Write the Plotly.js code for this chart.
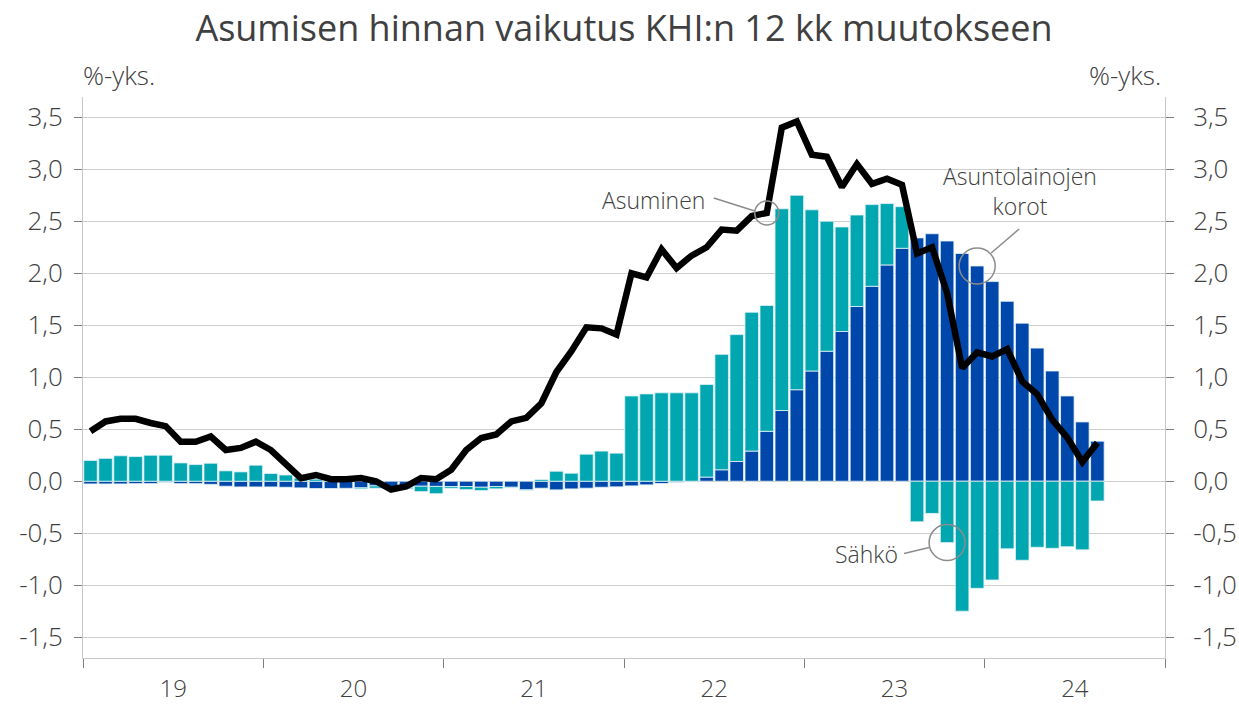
<!DOCTYPE html>
<html>
<head>
<meta charset="utf-8">
<script src="https://cdn.plot.ly/plotly-3.0.1.min.js"></script>
<style>html,body{margin:0;padding:0;background:#fff;}#chart{width:1239px;height:704px;}</style>
</head>
<body>
<div id="chart"></div>
<script>
// Months Jan 2019 .. Aug 2024 (index 0..67)
const months = [
 "2019-01","2019-02","2019-03","2019-04","2019-05","2019-06","2019-07","2019-08","2019-09","2019-10","2019-11","2019-12",
 "2020-01","2020-02","2020-03","2020-04","2020-05","2020-06","2020-07","2020-08","2020-09","2020-10","2020-11","2020-12",
 "2021-01","2021-02","2021-03","2021-04","2021-05","2021-06","2021-07","2021-08","2021-09","2021-10","2021-11","2021-12",
 "2022-01","2022-02","2022-03","2022-04","2022-05","2022-06","2022-07","2022-08","2022-09","2022-10","2022-11","2022-12",
 "2023-01","2023-02","2023-03","2023-04","2023-05","2023-06","2023-07","2023-08","2023-09","2023-10","2023-11","2023-12",
 "2024-01","2024-02","2024-03","2024-04","2024-05","2024-06","2024-07","2024-08"
];

// Asuntolainojen korot (dark blue bars), %-yks.
const korot = [
 -0.026,-0.026,-0.026,-0.023,-0.023,-0.010,-0.023,-0.023,-0.030,-0.048,-0.055,-0.055,
 -0.055,-0.058,-0.064,-0.070,-0.070,-0.068,-0.064,-0.045,-0.058,-0.058,-0.048,-0.050,
 -0.051,-0.051,-0.058,-0.051,-0.058,-0.083,-0.067,-0.083,-0.074,-0.067,-0.058,-0.054,
 -0.045,-0.035,-0.022,-0.010,-0.005,0.04,0.11,0.19,0.29,0.48,0.68,0.88,
 1.06,1.25,1.44,1.68,1.875,2.08,2.24,2.34,2.38,2.31,2.19,2.07,
 1.92,1.73,1.52,1.28,1.06,0.82,0.57,0.385
];

// Sähkö (teal bars), %-yks.
const sahko = [
 0.20,0.22,0.245,0.237,0.25,0.25,0.176,0.16,0.173,0.10,0.09,0.154,
 0.074,0.06,0.03,0.02,0.01,0.005,-0.01,-0.022,-0.01,-0.015,-0.052,-0.07,
 -0.016,-0.03,-0.032,-0.022,-0.006,-0.005,0.016,0.096,0.077,0.26,0.29,0.27,
 0.82,0.84,0.85,0.85,0.85,0.89,1.11,1.22,1.335,1.21,1.94,1.87,
 1.55,1.25,1.005,0.88,0.785,0.59,0.40,-0.39,-0.31,-0.59,-1.25,-1.03,
 -0.95,-0.65,-0.76,-0.635,-0.645,-0.63,-0.66,-0.19
];

// Asuminen (black line), %-yks.
const asuminen = [
 0.48,0.575,0.60,0.60,0.56,0.53,0.38,0.38,0.43,0.30,0.32,0.38,
 0.30,0.175,0.03,0.06,0.02,0.02,0.03,0.0,-0.08,-0.05,0.03,0.02,
 0.11,0.30,0.415,0.45,0.575,0.61,0.75,1.05,1.25,1.48,1.47,1.41,
 2.0,1.96,2.23,2.05,2.17,2.25,2.42,2.41,2.55,2.58,3.40,3.46,
 3.14,3.12,2.83,3.05,2.86,2.91,2.85,2.19,2.25,1.81,1.09,1.24,
 1.20,1.27,0.96,0.835,0.59,0.42,0.185,0.37
];

const yearLabels = ["19","20","21","22","23","24"];
const yTickVals = [-1.5,-1.0,-0.5,0,0.5,1.0,1.5,2.0,2.5,3.0,3.5];
const yTickText = ["-1,5","-1,0","-0,5","0,0","0,5","1,0","1,5","2,0","2,5","3,0","3,5"];

const idx = months.map((m,i)=>i);
const yearMid = yearLabels.map((y,k)=>k*12+5.5);
const yearEdges = [0,1,2,3,4,5,6].map(k=>k*12-0.5);

const FONT = "Open Sans, Noto Sans, sans-serif";
const TXT = "#404040";
const DARK = "#0047ab";
const TEAL = "#00a6b0";
const EDGE = "#e4f2f6";

const traces = [
 {type:"bar", x:idx, y:korot, name:"Asuntolainojen korot",
  marker:{color:DARK, line:{color:EDGE, width:0.8}}, hoverinfo:"skip"},
 {type:"bar", x:idx, y:sahko, name:"Sähkö",
  marker:{color:TEAL, line:{color:EDGE, width:0.8}}, hoverinfo:"skip"},
 {type:"scatter", mode:"lines", x:idx, y:asuminen, name:"Asuminen", yaxis:"y2",
  line:{color:"#000000", width:6.5}, hoverinfo:"skip"}
];

const yRange = [-1.7, 3.695];
const axisCommon = {
  range: yRange, tickmode:"array", tickvals:yTickVals, ticktext:yTickText,
  ticks:"outside", ticklen:8, tickcolor:"#7f7f7f", tickwidth:1,
  showline:true, linecolor:"#c8c8c8", linewidth:1,
  tickfont:{family:FONT, size:26, color:TXT, weight:300},
  fixedrange:true
};

function circle(xv, yv, r){
  return {type:"circle", xref:"x", yref:"y", xsizemode:"pixel", ysizemode:"pixel",
    xanchor:xv, yanchor:yv, x0:-r, x1:r, y0:-r, y1:r,
    line:{color:"#8c8c8c", width:1.5}, fillcolor:"rgba(0,0,0,0)", layer:"above"};
}
function seg(xv, yv, dx0, dy0, dx1, dy1){
  return {type:"line", xref:"x", yref:"y", xsizemode:"pixel", ysizemode:"pixel",
    xanchor:xv, yanchor:yv, x0:dx0, y0:dy0, x1:dx1, y1:dy1,
    line:{color:"#8c8c8c", width:1.5}, layer:"above"};
}

const iAs = 45, iKo = 59, iSa = 57;
const yKo = korot[iKo];
const ySa = korot[iSa] < 0 ? korot[iSa] + sahko[iSa] : sahko[iSa];

const layout = {
  width:1239, height:704,
  margin:{l:83, r:74, t:97, b:46, pad:0},
  paper_bgcolor:"#ffffff", plot_bgcolor:"#ffffff",
  barmode:"relative", bargap:0.1,
  showlegend:false,
  title:{text:"Asumisen hinnan vaikutus KHI:n 12 kk muutokseen",
    font:{family:FONT, size:36, color:TXT, weight:400},
    x:0.5, xref:"paper", xanchor:"center", y:1-28/704, yref:"container", yanchor:"middle"},
  xaxis:{range:[-0.5,71.5], tickmode:"array", tickvals:yearMid, ticktext:yearLabels,
    ticks:"", showline:true, linecolor:"#c8c8c8", linewidth:1, showgrid:false, zeroline:false,
    tickfont:{family:FONT, size:24, color:TXT, weight:300}, ticklabelstandoff:9,
    minor:{tickmode:"array", tickvals:yearEdges, ticks:"outside", ticklen:9, tickcolor:"#7f7f7f", tickwidth:1, showgrid:false},
    fixedrange:true},
  yaxis:Object.assign({}, axisCommon, {side:"left", showgrid:true, gridcolor:"#cfcfcf", gridwidth:1,
    zeroline:true, zerolinecolor:"#cfcfcf", zerolinewidth:1, ticklabelstandoff:6}),
  yaxis2:Object.assign({}, axisCommon, {side:"right", overlaying:"y", showgrid:false, zeroline:false, ticklabelstandoff:14}),
  shapes:[
    circle(iAs, asuminen[iAs], 12),
    seg(iAs, asuminen[iAs], -53, 15, -12, 2),
    circle(iKo, yKo, 18),
    seg(iKo, yKo, 42, 37, 14, 13),
    circle(iSa, ySa, 18),
    seg(iSa, ySa, -43, -11, -18, -5)
  ],
  annotations:[
    {text:"%-yks.", xref:"paper", yref:"paper", x:0, y:1, xanchor:"left", yanchor:"middle", yshift:22, xshift:-2,
     showarrow:false, font:{family:FONT, size:26, color:TXT, weight:300}},
    {text:"%-yks.", xref:"paper", yref:"paper", x:1, y:1, xanchor:"right", yanchor:"middle", yshift:22, xshift:-2,
     showarrow:false, font:{family:FONT, size:26, color:TXT, weight:300}},
    {text:"Asuminen", xref:"x", yref:"y", x:iAs, y:asuminen[iAs], xanchor:"center", yanchor:"middle",
     xshift:-113, yshift:13, showarrow:false, font:{family:FONT, size:23, color:TXT, weight:300}},
    {text:"Asuntolainojen<br>korot", xref:"x", yref:"y", x:iKo, y:yKo, xanchor:"center", yanchor:"middle",
     xshift:43, yshift:75, showarrow:false, font:{family:FONT, size:23, color:TXT, weight:300}},
    {text:"Sähkö", xref:"x", yref:"y", x:iSa, y:ySa, xanchor:"center", yanchor:"middle",
     xshift:-81, yshift:-11, showarrow:false, font:{family:FONT, size:23, color:TXT, weight:300}}
  ]
};

Plotly.newPlot("chart", traces, layout, {staticPlot:true, displayModeBar:false});
</script>
</body>
</html>
